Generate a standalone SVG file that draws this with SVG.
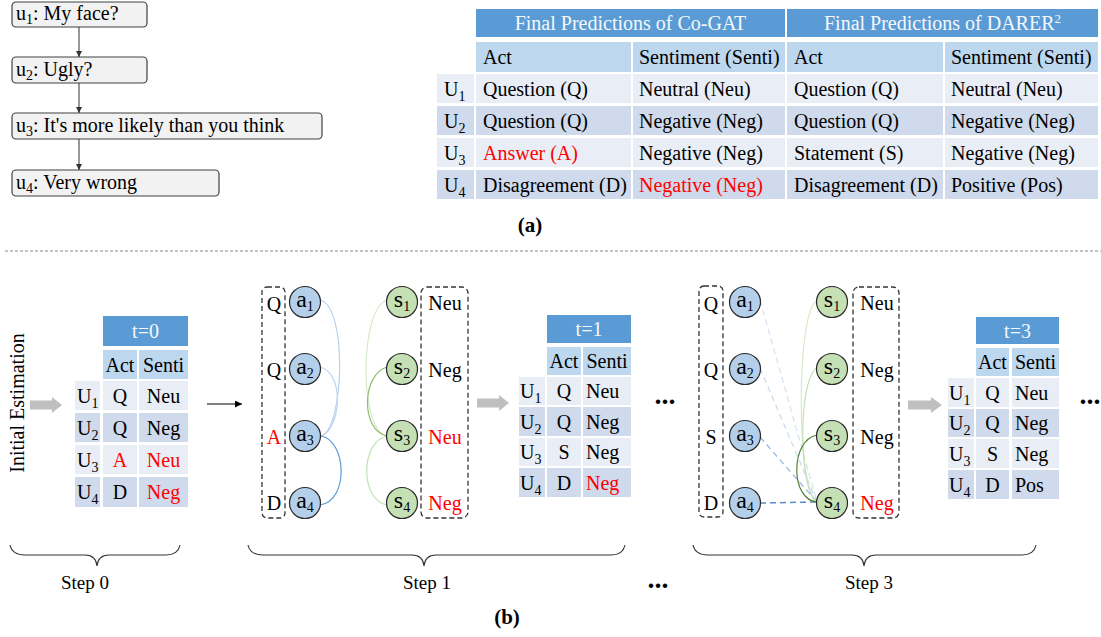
<svg xmlns="http://www.w3.org/2000/svg" width="1101" height="637" viewBox="0 0 1101 637">
<defs>
<style>
text{font-family:"Liberation Serif","Times New Roman",serif;font-size:20px;fill:#000}
.wt{fill:#F4F8FC}
.red{fill:#FF0000}
.mid{text-anchor:middle}
.hd{fill:#5B9BD5}
.ch{fill:#BDD7EE}
.l1{fill:#E9EEF6}
.l2{fill:#CFDAEC}
.ub{fill:#F2F2F2;stroke:#404040;stroke-width:1.2}
.dbox{fill:none;stroke:#333;stroke-width:1.3;stroke-dasharray:5,3}
.an{fill:#B4CFEA;stroke:#2a2a2a;stroke-width:1.2}
.sn{fill:#C5E0B4;stroke:#2a2a2a;stroke-width:1.2}
.nl{font-size:24px}
.sub{font-size:14px}
.gar{fill:#BFBFBF}
.dots{font-size:28px;font-weight:bold}
.brace{fill:none;stroke:#333;stroke-width:1.1}
.step{font-size:19px}
.cap{font-weight:bold;font-size:21px}
</style>
<marker id="ah" markerWidth="7" markerHeight="7" refX="7" refY="3.5" orient="auto" markerUnits="userSpaceOnUse"><path d="M0,0 L7,3.5 L0,7 z" fill="#000"/></marker>
<marker id="ahs" markerWidth="6" markerHeight="6" refX="6" refY="3" orient="auto" markerUnits="userSpaceOnUse"><path d="M0,0 L6,3 L0,6 z" fill="#333"/></marker>
</defs>
<rect width="1101" height="637" fill="#fff"/>

<!-- dialogue -->
<g id="u1"><rect class="ub" x="12" y="2" width="135" height="25" rx="4"/><text x="16" y="20">u<tspan class="sub" dy="4">1</tspan><tspan dy="-4">: My face?</tspan></text></g>
<g id="u2"><rect class="ub" x="12" y="57" width="135" height="26" rx="4"/><text x="16" y="76">u<tspan class="sub" dy="4">2</tspan><tspan dy="-4">: Ugly?</tspan></text></g>
<g id="u3"><rect class="ub" x="12" y="113" width="310" height="26" rx="4"/><text x="16" y="132">u<tspan class="sub" dy="4">3</tspan><tspan dy="-4">: It's more likely than you think</tspan></text></g>
<g id="u4"><rect class="ub" x="12" y="170" width="207" height="26" rx="4"/><text x="16" y="189">u<tspan class="sub" dy="4">4</tspan><tspan dy="-4">: Very wrong</tspan></text></g>
<g id="dialogue-connectors" stroke="#333" stroke-width="1">
<line x1="79" y1="27" x2="79" y2="57" marker-end="url(#ahs)"/>
<line x1="79" y1="83" x2="79" y2="113" marker-end="url(#ahs)"/>
<line x1="79" y1="139" x2="79" y2="170" marker-end="url(#ahs)"/>
</g>

<!-- table (a) -->
<g id="table-a">
<rect class="hd" x="476" y="9" width="309" height="28"/>
<rect class="hd" x="787" y="9" width="311" height="28"/>
<text class="wt mid" x="630.5" y="30">Final Predictions of Co-GAT</text>
<text class="wt mid" x="942.5" y="30">Final Predictions of DARER<tspan font-size="13" dy="-7">2</tspan></text>
<rect class="ch" x="476" y="42" width="155" height="30"/>
<rect class="ch" x="633" y="42" width="152" height="30"/>
<rect class="ch" x="787" y="42" width="156" height="30"/>
<rect class="ch" x="945" y="42" width="153" height="30"/>
<text x="483" y="64">Act</text><text x="639" y="64">Sentiment (Senti)</text><text x="794" y="64">Act</text><text x="951" y="64">Sentiment (Senti)</text>
<g class="l1"><rect x="437" y="74" width="37" height="29"/><rect x="476" y="74" width="155" height="29"/><rect x="633" y="74" width="152" height="29"/><rect x="787" y="74" width="156" height="29"/><rect x="945" y="74" width="153" height="29"/></g>
<g class="l2"><rect x="437" y="106" width="37" height="29"/><rect x="476" y="106" width="155" height="29"/><rect x="633" y="106" width="152" height="29"/><rect x="787" y="106" width="156" height="29"/><rect x="945" y="106" width="153" height="29"/></g>
<g class="l1"><rect x="437" y="138" width="37" height="29"/><rect x="476" y="138" width="155" height="29"/><rect x="633" y="138" width="152" height="29"/><rect x="787" y="138" width="156" height="29"/><rect x="945" y="138" width="153" height="29"/></g>
<g class="l2"><rect x="437" y="170" width="37" height="29"/><rect x="476" y="170" width="155" height="29"/><rect x="633" y="170" width="152" height="29"/><rect x="787" y="170" width="156" height="29"/><rect x="945" y="170" width="153" height="29"/></g>
<text x="444" y="96">U<tspan class="sub" dy="5">1</tspan></text><text x="483" y="96">Question (Q)</text><text x="639" y="96">Neutral (Neu)</text><text x="794" y="96">Question (Q)</text><text x="951" y="96">Neutral (Neu)</text>
<text x="444" y="128">U<tspan class="sub" dy="5">2</tspan></text><text x="483" y="128">Question (Q)</text><text x="639" y="128">Negative (Neg)</text><text x="794" y="128">Question (Q)</text><text x="951" y="128">Negative (Neg)</text>
<text x="444" y="160">U<tspan class="sub" dy="5">3</tspan></text><text class="red" x="483" y="160">Answer (A)</text><text x="639" y="160">Negative (Neg)</text><text x="794" y="160">Statement (S)</text><text x="951" y="160">Negative (Neg)</text>
<text x="444" y="192">U<tspan class="sub" dy="5">4</tspan></text><text x="483" y="192">Disagreement (D)</text><text class="red" x="639" y="192">Negative (Neg)</text><text x="794" y="192">Disagreement (D)</text><text x="951" y="192">Positive (Pos)</text>
</g>
<text class="cap mid" x="530" y="232">(a)</text>

<line x1="5" y1="251" x2="1101" y2="251" stroke="#888" stroke-width="1" stroke-dasharray="3,2"/>

<!-- Step 0 -->
<text class="mid" transform="translate(24,403) rotate(-90)">Initial Estimation</text>
<path class="gar" d="M30,400.5 H52 V397 L62,405 L52,413 V409.5 H30 Z"/>
<g id="table-t0">
<rect class="hd" x="103" y="316" width="85" height="30"/>
<text class="wt mid" x="145.5" y="338">t=0</text>
<rect class="ch" x="103" y="350" width="34" height="29"/><rect class="ch" x="139" y="350" width="49" height="29"/>
<text class="mid" x="120" y="372">Act</text><text class="mid" x="163.5" y="372">Senti</text>
<g class="l1"><rect x="75" y="381" width="25" height="29"/><rect x="103" y="381" width="34" height="29"/><rect x="139" y="381" width="49" height="29"/></g>
<g class="l2"><rect x="75" y="413" width="25" height="29"/><rect x="103" y="413" width="34" height="29"/><rect x="139" y="413" width="49" height="29"/></g>
<g class="l1"><rect x="75" y="445" width="25" height="29"/><rect x="103" y="445" width="34" height="29"/><rect x="139" y="445" width="49" height="29"/></g>
<g class="l2"><rect x="75" y="477" width="25" height="30"/><rect x="103" y="477" width="34" height="30"/><rect x="139" y="477" width="49" height="30"/></g>
<text x="77" y="403">U<tspan class="sub" dy="5">1</tspan></text><text class="mid" x="120" y="403">Q</text><text class="mid" x="163.5" y="403">Neu</text>
<text x="77" y="435">U<tspan class="sub" dy="5">2</tspan></text><text class="mid" x="120" y="435">Q</text><text class="mid" x="163.5" y="435">Neg</text>
<text x="77" y="467">U<tspan class="sub" dy="5">3</tspan></text><text class="mid red" x="120" y="467">A</text><text class="mid red" x="163.5" y="467">Neu</text>
<text x="77" y="499">U<tspan class="sub" dy="5">4</tspan></text><text class="mid" x="120" y="499">D</text><text class="mid red" x="163.5" y="499">Neg</text>
</g>
<line x1="207" y1="404" x2="242" y2="404" stroke="#000" stroke-width="1.2" marker-end="url(#ah)"/>

<!-- Step 1 graph -->
<g id="step1-connectors" fill="none" stroke-width="1.2">
<path d="M320,300 C348,306 344,430 321,436" stroke="#B5D2F0"/>
<path d="M320,367 C346,374 340,430 321,436" stroke="#BDD4EE"/>
<path d="M320,505 C350,500 346,440 321,436" stroke="#5B9BD5"/>
<path d="M387,300 C360,308 358,430 387,436" stroke="#D6EACB"/>
<path d="M387,367 C362,374 360,430 387,436" stroke="#8DBE70"/>
<path d="M387,505 C360,500 360,442 387,436" stroke="#C1E3B0"/>
</g>
<g id="step1-act-box"><rect class="dbox" x="262" y="287" width="23" height="231" rx="5"/>
<text class="mid" x="274" y="311">Q</text><text class="mid" x="274" y="377">Q</text><text class="mid red" x="274" y="444">A</text><text class="mid" x="274" y="510">D</text></g>
<g id="step1-senti-box"><rect class="dbox" x="421" y="287" width="47" height="231" rx="6"/>
<text class="mid" x="445" y="310">Neu</text><text class="mid" x="445" y="377">Neg</text><text class="mid red" x="445" y="444">Neu</text><text class="mid red" x="445" y="510">Neg</text></g>
<g id="s1-a1"><circle class="an" cx="305" cy="302" r="15.5"/><text class="nl mid" x="305" y="307">a<tspan class="sub" dy="4">1</tspan></text></g>
<g id="s1-a2"><circle class="an" cx="305" cy="369" r="15.5"/><text class="nl mid" x="305" y="374">a<tspan class="sub" dy="4">2</tspan></text></g>
<g id="s1-a3"><circle class="an" cx="305" cy="436" r="15.5"/><text class="nl mid" x="305" y="441">a<tspan class="sub" dy="4">3</tspan></text></g>
<g id="s1-a4"><circle class="an" cx="305" cy="503" r="15.5"/><text class="nl mid" x="305" y="508">a<tspan class="sub" dy="4">4</tspan></text></g>
<g id="s1-s1"><circle class="sn" cx="402" cy="302" r="15.5"/><text class="nl mid" x="402" y="307">s<tspan class="sub" dy="4">1</tspan></text></g>
<g id="s1-s2"><circle class="sn" cx="402" cy="369" r="15.5"/><text class="nl mid" x="402" y="374">s<tspan class="sub" dy="4">2</tspan></text></g>
<g id="s1-s3"><circle class="sn" cx="402" cy="436" r="15.5"/><text class="nl mid" x="402" y="441">s<tspan class="sub" dy="4">3</tspan></text></g>
<g id="s1-s4"><circle class="sn" cx="402" cy="503" r="15.5"/><text class="nl mid" x="402" y="508">s<tspan class="sub" dy="4">4</tspan></text></g>

<!-- Step 1 table -->
<path class="gar" d="M477,398.5 H499 V395 L509,403 L499,411 V407.5 H477 Z"/>
<g id="table-t1">
<rect class="hd" x="547" y="315" width="84" height="28"/>
<text class="wt mid" x="589" y="336">t=1</text>
<rect class="ch" x="547" y="347" width="34" height="28"/><rect class="ch" x="583" y="347" width="48" height="28"/>
<text class="mid" x="564" y="368">Act</text><text class="mid" x="607" y="368">Senti</text>
<g class="l1"><rect x="519" y="377" width="26" height="28"/><rect x="547" y="377" width="34" height="28"/><rect x="583" y="377" width="48" height="28"/></g>
<g class="l2"><rect x="519" y="407" width="26" height="29"/><rect x="547" y="407" width="34" height="29"/><rect x="583" y="407" width="48" height="29"/></g>
<g class="l1"><rect x="519" y="438" width="26" height="28"/><rect x="547" y="438" width="34" height="28"/><rect x="583" y="438" width="48" height="28"/></g>
<g class="l2"><rect x="519" y="468" width="26" height="29"/><rect x="547" y="468" width="34" height="29"/><rect x="583" y="468" width="48" height="29"/></g>
<text x="520" y="398">U<tspan class="sub" dy="5">1</tspan></text><text class="mid" x="564" y="398">Q</text><text x="586" y="398">Neu</text>
<text x="520" y="429">U<tspan class="sub" dy="5">2</tspan></text><text class="mid" x="564" y="429">Q</text><text x="586" y="429">Neg</text>
<text x="520" y="459">U<tspan class="sub" dy="5">3</tspan></text><text class="mid" x="564" y="459">S</text><text x="586" y="459">Neg</text>
<text x="520" y="490">U<tspan class="sub" dy="5">4</tspan></text><text class="mid" x="564" y="490">D</text><text class="red" x="586" y="490">Neg</text>
</g>
<text class="dots mid" x="665" y="404">...</text>

<!-- Step 3 graph -->
<g id="step3-connectors" fill="none" stroke-width="1.2">
<path d="M760,300 L817,502" stroke="#D3E3F5" stroke-dasharray="6,4"/>
<path d="M760,368 L817,502" stroke="#C6DAF0" stroke-dasharray="6,4"/>
<path d="M760,437 L817,502" stroke="#8FB4DE" stroke-dasharray="6,4"/>
<path d="M760,503 L817,502" stroke="#5A8CC6" stroke-width="1.5" stroke-dasharray="6,4"/>
<path d="M817,301 C796,310 796,490 817,502" stroke="#D6EACB"/>
<path d="M817,368 C798,378 798,490 817,502" stroke="#C5E0B4"/>
<path d="M817,435 C790,440 790,500 817,502" stroke="#548235"/>
</g>
<g id="step3-act-box"><rect class="dbox" x="699" y="286" width="24" height="231" rx="5"/>
<text class="mid" x="711" y="311">Q</text><text class="mid" x="711" y="377">Q</text><text class="mid" x="711" y="444">S</text><text class="mid" x="711" y="510">D</text></g>
<g id="step3-senti-box"><rect class="dbox" x="853" y="287" width="46" height="231" rx="6"/>
<text class="mid" x="877" y="310">Neu</text><text class="mid" x="877" y="377">Neg</text><text class="mid" x="877" y="444">Neg</text><text class="mid red" x="877" y="510">Neg</text></g>
<g id="s3-a1"><circle class="an" cx="745" cy="302" r="15.5"/><text class="nl mid" x="745" y="307">a<tspan class="sub" dy="4">1</tspan></text></g>
<g id="s3-a2"><circle class="an" cx="745" cy="369" r="15.5"/><text class="nl mid" x="745" y="374">a<tspan class="sub" dy="4">2</tspan></text></g>
<g id="s3-a3"><circle class="an" cx="745" cy="436" r="15.5"/><text class="nl mid" x="745" y="441">a<tspan class="sub" dy="4">3</tspan></text></g>
<g id="s3-a4"><circle class="an" cx="745" cy="503" r="15.5"/><text class="nl mid" x="745" y="508">a<tspan class="sub" dy="4">4</tspan></text></g>
<g id="s3-s1"><circle class="sn" cx="832" cy="302" r="15.5"/><text class="nl mid" x="832" y="307">s<tspan class="sub" dy="4">1</tspan></text></g>
<g id="s3-s2"><circle class="sn" cx="832" cy="369" r="15.5"/><text class="nl mid" x="832" y="374">s<tspan class="sub" dy="4">2</tspan></text></g>
<g id="s3-s3"><circle class="sn" cx="832" cy="436" r="15.5"/><text class="nl mid" x="832" y="441">s<tspan class="sub" dy="4">3</tspan></text></g>
<g id="s3-s4"><circle class="sn" cx="832" cy="503" r="15.5"/><text class="nl mid" x="832" y="508">s<tspan class="sub" dy="4">4</tspan></text></g>

<!-- Step 3 table -->
<path class="gar" d="M908,400.5 H931 V397 L942,405 L931,413 V409.5 H908 Z"/>
<g id="table-t3">
<rect class="hd" x="976" y="317" width="83" height="27"/>
<text class="wt mid" x="1017.5" y="338">t=3</text>
<rect class="ch" x="976" y="348" width="33" height="28"/><rect class="ch" x="1012" y="348" width="47" height="28"/>
<text class="mid" x="992.5" y="369">Act</text><text class="mid" x="1035.5" y="369">Senti</text>
<g class="l1"><rect x="948" y="378" width="26" height="29"/><rect x="976" y="378" width="33" height="29"/><rect x="1012" y="378" width="47" height="29"/></g>
<g class="l2"><rect x="948" y="409" width="26" height="28"/><rect x="976" y="409" width="33" height="28"/><rect x="1012" y="409" width="47" height="28"/></g>
<g class="l1"><rect x="948" y="439" width="26" height="29"/><rect x="976" y="439" width="33" height="29"/><rect x="1012" y="439" width="47" height="29"/></g>
<g class="l2"><rect x="948" y="470" width="26" height="29"/><rect x="976" y="470" width="33" height="29"/><rect x="1012" y="470" width="47" height="29"/></g>
<text x="949" y="400">U<tspan class="sub" dy="5">1</tspan></text><text class="mid" x="992.5" y="400">Q</text><text x="1015" y="400">Neu</text>
<text x="949" y="430">U<tspan class="sub" dy="5">2</tspan></text><text class="mid" x="992.5" y="430">Q</text><text x="1015" y="430">Neg</text>
<text x="949" y="461">U<tspan class="sub" dy="5">3</tspan></text><text class="mid" x="992.5" y="461">S</text><text x="1015" y="461">Neg</text>
<text x="949" y="492">U<tspan class="sub" dy="5">4</tspan></text><text class="mid" x="992.5" y="492">D</text><text x="1015" y="492">Pos</text>
</g>
<text class="dots mid" x="1090" y="404">...</text>

<!-- braces -->
<g id="braces">
<path class="brace" d="M10,545 Q12,555 25,555 H85 Q96,555 97,566 Q98,555 109,555 H166 Q178,555 180,545"/>
<path class="brace" d="M248,545 Q250,555 263,555 H412 Q423,555 424,566 Q425,555 436,555 H611 Q623,555 625,545"/>
<path class="brace" d="M693,545 Q695,555 708,555 H852 Q863,555 864,566 Q865,555 876,555 H1022 Q1034,555 1036,545"/>
</g>
<text class="step mid" x="85" y="589">Step 0</text>
<text class="step mid" x="427" y="589">Step 1</text>
<text class="step mid" x="869" y="589">Step 3</text>
<text class="dots mid" x="658" y="588">...</text>
<text class="cap mid" x="507" y="624">(b)</text>
</svg>
